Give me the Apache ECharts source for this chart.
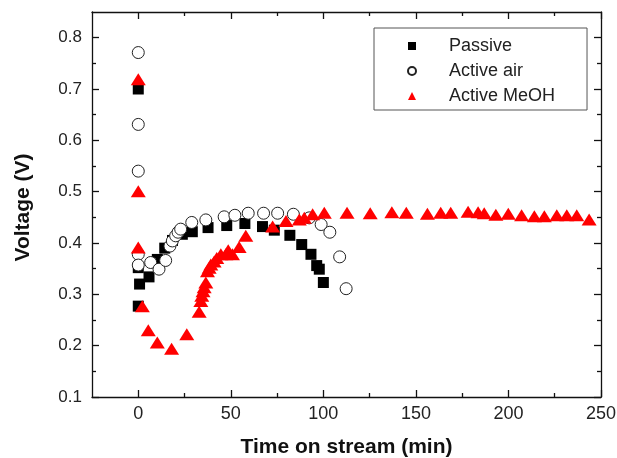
<!DOCTYPE html>
<html>
<head>
<meta charset="utf-8">
<script src="https://cdn.jsdelivr.net/npm/echarts@6/dist/echarts.min.js"></script>
<style>
  html, body { margin: 0; padding: 0; background: #fff; }
  #chart { width: 617px; height: 458px; }
</style>
</head>
<body>
<div id="chart"></div>
<script>
var passiveTime = [0, 0, 0.7, 0, 5.8, 10.3, 14.3, 18.5, 23.8, 29.2, 37.7, 47.8, 57.6, 67.1, 73.5, 81.9, 88.3, 93.3, 96.4, 97.8, 100];
var passiveVolt = [0.70, 0.277, 0.32, 0.352, 0.334, 0.368, 0.39, 0.405, 0.417, 0.422, 0.43, 0.434, 0.438, 0.432, 0.425, 0.415, 0.397, 0.378, 0.356, 0.349, 0.323];

var airTime = [0, 0, 0, 0, 0, 6.7, 11.2, 14.8, 17.1, 18.4, 20.2, 21.5, 22.9, 28.9, 36.5, 46.4, 52.2, 59.4, 67.7, 75.3, 83.8, 92.4, 98.8, 103.5, 108.8, 112.3];
var airVolt = [0.771, 0.631, 0.54, 0.378, 0.357, 0.362, 0.349, 0.366, 0.394, 0.404, 0.414, 0.421, 0.427, 0.44, 0.445, 0.451, 0.454, 0.458, 0.458, 0.458, 0.456, 0.449, 0.436, 0.421, 0.373, 0.311];

var meohTime = [0, 0, 0, 2.2, 5.4, 10.3, 18, 26.2, 32.9, 33.8, 34.3, 35, 35.6, 36.5, 37.4, 38.3, 39.2, 41, 42.4, 44.6, 47.3, 48.6, 50.9, 54.5, 58.1, 72.6, 79.8, 87, 89.7, 94.2, 100.5, 112.8, 125.3, 137, 144.8, 156.2, 163.4, 168.8, 178.2, 183.6, 186.9, 193.2, 199.9, 207.1, 214, 219.4, 226.1, 231.5, 236.9, 243.6];
var meohVolt = [0.719, 0.501, 0.391, 0.277, 0.23, 0.206, 0.194, 0.222, 0.266, 0.287, 0.297, 0.306, 0.314, 0.323, 0.345, 0.352, 0.358, 0.364, 0.371, 0.378, 0.378, 0.386, 0.378, 0.392, 0.414, 0.432, 0.443, 0.446, 0.449, 0.456, 0.459, 0.459, 0.458, 0.46, 0.459, 0.457, 0.459, 0.459, 0.461, 0.46, 0.458, 0.455, 0.457, 0.454, 0.452, 0.452, 0.454, 0.454, 0.454, 0.446];

var xMajor = [0, 50, 100, 150, 200, 250];
var xMinor = [25, 75, 125, 175, 225];
var yMajor = [0.1, 0.2, 0.3, 0.4, 0.5, 0.6, 0.7, 0.8];
var yMinor = [0.15, 0.25, 0.35, 0.45, 0.55, 0.65, 0.75];

function pairs(xs, ys) {
  return xs.map(function (x, i) { return [x, ys[i]]; });
}

var chart = echarts.init(document.getElementById('chart'), null, { renderer: 'canvas' });
var FONT = '"Liberation Sans", Arial, sans-serif';
var lineStyle = { color: '#111', width: 1.3 };

function xAx(pos, ticks, len, labels, withLine) {
  var ax = {
    type: 'value', min: -25, max: 250, position: pos,
    axisLine: { show: withLine, onZero: false, lineStyle: lineStyle },
    axisTick: { show: true, inside: true, length: len, customValues: ticks, lineStyle: lineStyle },
    axisLabel: { show: labels, customValues: xMajor, fontSize: 18, color: '#222', fontFamily: FONT, margin: 8 },
    splitLine: { show: false }
  };
  if (labels) {
    ax.name = 'Time on stream (min)';
    ax.nameLocation = 'middle';
    ax.nameGap = 40;
    ax.nameTextStyle = { fontSize: 21, fontWeight: 'bold', color: '#111', fontFamily: FONT };
  }
  return ax;
}

function yAx(pos, ticks, len, labels, withLine) {
  var ax = {
    type: 'value', min: 0.1, max: 0.85, position: pos,
    axisLine: { show: withLine, onZero: false, lineStyle: lineStyle },
    axisTick: { show: true, inside: true, length: len, customValues: ticks, lineStyle: lineStyle },
    axisLabel: {
      show: labels, customValues: yMajor, fontSize: 17, color: '#222', fontFamily: FONT, margin: 10,
      formatter: function (v) { return v.toFixed(1); }
    },
    splitLine: { show: false }
  };
  if (labels) {
    ax.name = 'Voltage (V)';
    ax.nameLocation = 'middle';
    ax.nameGap = 58;
    ax.nameTextStyle = { fontSize: 21, fontWeight: 'bold', color: '#111', fontFamily: FONT, padding: [0, 6, 0, 0] };
  }
  return ax;
}

var option = {
  backgroundColor: '#fff',
  animation: false,
  grid: { left: 92, right: 16, top: 12, bottom: 61, containLabel: false, outerBoundsMode: 'none' },
  legend: {
    orient: 'vertical',
    left: 374, top: 28,
    padding: [8, 32, 4, 33],
    itemGap: 5,
    itemWidth: 8, itemHeight: 8,
    borderColor: '#555', borderWidth: 1,
    textStyle: { fontSize: 18, color: '#222', fontFamily: FONT, lineHeight: 20, padding: [0, 0, 0, 28] },
    data: [
      { name: 'Passive', icon: 'rect' },
      { name: 'Active air', icon: 'circle' },
      { name: 'Active MeOH', icon: 'triangle' }
    ]
  },
  xAxis: [
    xAx('bottom', xMajor, 7, true, true),
    xAx('bottom', xMinor, 4, false, false),
    xAx('top', xMajor, 7, false, true),
    xAx('top', xMinor, 4, false, false)
  ],
  yAxis: [
    yAx('left', yMajor, 7, true, true),
    yAx('left', yMinor, 4, false, false),
    yAx('right', yMajor, 7, false, true),
    yAx('right', yMinor, 4, false, false)
  ],
  series: [
    {
      name: 'Passive', type: 'scatter', symbol: 'rect', symbolSize: 11,
      itemStyle: { color: '#000', opacity: 1 },
      data: pairs(passiveTime, passiveVolt)
    },
    {
      name: 'Active air', type: 'scatter', symbol: 'circle', symbolSize: 12,
      itemStyle: { color: '#fff', borderColor: '#222', borderWidth: 1, opacity: 1 },
      data: pairs(airTime, airVolt)
    },
    {
      name: 'Active MeOH', type: 'scatter', symbol: 'triangle', symbolSize: [15, 12],
      itemStyle: { color: '#ff0000', opacity: 1 },
      data: pairs(meohTime, meohVolt)
    }
  ]
};

chart.setOption(option);
</script>
</body>
</html>
